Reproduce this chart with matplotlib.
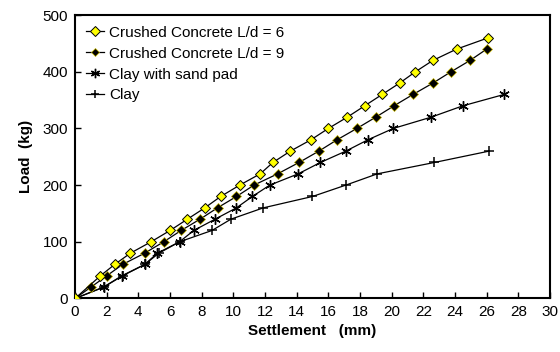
import matplotlib
matplotlib.use("Agg")
import matplotlib.pyplot as plt

# Load-settlement data (settlement in mm, load in kg)
cc6_settle = [0, 1.6, 2.5, 3.5, 4.8, 6.0, 7.1, 8.2, 9.2, 10.4, 11.7, 12.5, 13.6,
              14.9, 16.0, 17.2, 18.3, 19.4, 20.5, 21.5, 22.6, 24.1, 26.1]
cc6_load = [0, 40, 60, 80, 100, 120, 140, 160, 180, 200, 220, 240, 260,
            280, 300, 320, 340, 360, 380, 400, 420, 440, 460]

cc9_settle = [0, 1.0, 2.0, 3.0, 4.4, 5.6, 6.7, 7.9, 9.0, 10.2, 11.3, 12.8, 14.15,
              15.4, 16.55, 17.8, 19.0, 20.15, 21.35, 22.6, 23.75, 24.95, 26.0]
cc9_load = [0, 20, 40, 60, 80, 100, 120, 140, 160, 180, 200, 220, 240,
            260, 280, 300, 320, 340, 360, 380, 400, 420, 440]

sand_settle = [0, 1.8, 2.95, 4.4, 5.2, 6.6, 7.5, 8.85, 10.2, 11.2, 12.3, 14.1,
               15.5, 17.1, 18.5, 20.1, 22.5, 24.5, 27.1]
sand_load = [0, 20, 40, 60, 80, 100, 120, 140, 160, 180, 200, 220,
             240, 260, 280, 300, 320, 340, 360]

clay_settle = [0, 1.8, 3.0, 4.4, 5.3, 6.6, 8.65, 9.85, 11.9, 15.0, 17.1, 19.1, 22.7, 26.15]
clay_load = [0, 20, 40, 60, 80, 100, 120, 140, 160, 180, 200, 220, 240, 260]

labels = ["Crushed Concrete L/d = 6", "Crushed Concrete L/d = 9",
          "Clay with sand pad", "Clay"]
x_ticks = list(range(0, 31, 2))
y_ticks = [0, 100, 200, 300, 400, 500]

plt.rcParams['font.family'] = ['Liberation Sans', 'DejaVu Sans']

fig = plt.figure(figsize=(5.6, 3.52), dpi=100)
ax = fig.add_axes([0.134, 0.152, 0.848, 0.805])

ax.plot(clay_settle, clay_load, color='black', lw=0.9, marker='+',
        markersize=7, markeredgewidth=1.1, label=labels[3], zorder=2)
ax.plot(sand_settle, sand_load, color='black', lw=0.9, marker=(6, 2, 0),
        markersize=7.5, markeredgewidth=1.0, label=labels[2], zorder=3)
ax.plot(cc9_settle, cc9_load, color='black', lw=0.9, marker='D',
        markersize=4.6, markerfacecolor='black', markeredgecolor='#c8b800',
        markeredgewidth=0.5, label=labels[1], zorder=4)
ax.plot(cc6_settle, cc6_load, color='black', lw=0.9, marker='D',
        markersize=5.3, markerfacecolor='#ffff00', markeredgecolor='black',
        markeredgewidth=0.7, label=labels[0], zorder=5)

ax.set_xlim(0, 30)
ax.set_ylim(0, 500)
ax.set_xticks(x_ticks)
ax.set_yticks(y_ticks)
ax.tick_params(direction='in', length=4.5, width=1, labelsize=11, pad=5)
for s in ax.spines.values():
    s.set_linewidth(1.5)

ax.set_xlabel("Settlement   (mm)", fontweight='bold', fontsize=11, labelpad=3)
ax.set_ylabel("Load  (kg)", fontweight='bold', fontsize=11, labelpad=7)

handles, lbls = ax.get_legend_handles_labels()
order = [3, 2, 1, 0]
ax.legend([handles[i] for i in order], [lbls[i] for i in order],
          loc='upper left', frameon=False, fontsize=11, handlelength=1.2,
          handletextpad=0.35, labelspacing=0.45, borderaxespad=0.25,
          borderpad=0.45, markerscale=0.9)

fig.savefig("out.png", dpi=100)
